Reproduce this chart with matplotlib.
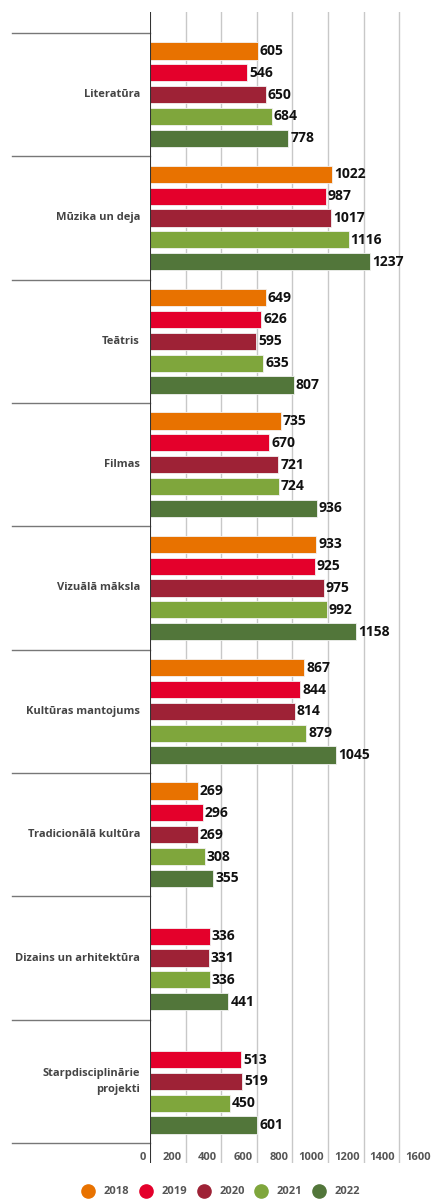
import numpy as np
import matplotlib
matplotlib.use("Agg")
import matplotlib.pyplot as plt
import matplotlib.transforms as mtransforms
from matplotlib.lines import Line2D

plt.rcParams['font.family'] = ['Open Sans', 'DejaVu Sans']

# Dati
categories = ['Literatūra', 'Mūzika un deja', 'Teātris', 'Filmas', 'Vizuālā māksla',
              'Kultūras mantojums', 'Tradicionālā kultūra', 'Dizains un arhitektūra',
              'Starpdisciplinārie\nprojekti']
years = ['2018', '2019', '2020', '2021', '2022']
v2018 = [605, 1022, 649, 735, 933, 867, 269, np.nan, np.nan]
v2019 = [546, 987, 626, 670, 925, 844, 296, 336, 513]
v2020 = [650, 1017, 595, 721, 975, 814, 269, 331, 519]
v2021 = [684, 1116, 635, 724, 992, 879, 308, 336, 450]
v2022 = [778, 1237, 807, 936, 1158, 1045, 355, 441, 601]
series = [v2018, v2019, v2020, v2021, v2022]
colors = ['#E87200', '#E4002B', '#9E2236', '#7FA63C', '#52763A']
xticks = [0, 200, 400, 600, 800, 1000, 1200, 1400, 1600]

W, H = 433, 1200
fig = plt.figure(figsize=(W / 100, H / 100), dpi=100)
left, right, top, bottom = 150, 433, 12, 1163
ax = fig.add_axes([left / W, 1 - bottom / H, (right - left) / W, (bottom - top) / H])

y = np.arange(len(categories))
step = 0.177
bh = 0.14
for k, (vals, c) in enumerate(zip(series, colors)):
    pos = y + (k - 2) * step
    ax.barh(pos, vals, height=bh, color=c, edgecolor='#f2f2f2', linewidth=0.6, zorder=3)
    for p, v in zip(pos, vals):
        if not np.isnan(v):
            ax.annotate(f'{int(v)}', (v, p), xytext=(1.5, 0), textcoords='offset points',
                        ha='left', va='center', fontsize=10, fontweight='bold',
                        color='#111111', zorder=4)

ax.set_xlim(0, 1590)
ax.set_ylim(8.5 + 0.162, -0.5 - 0.17)

# vertikālās režģa līnijas
for t in xticks[1:]:
    ax.axvline(t, color='#c8c8c8', linewidth=1, zorder=1)
ax.axvline(0, color='#333333', linewidth=1.5, zorder=5)

for s in ax.spines.values():
    s.set_visible(False)
ax.set_xticks([])
ax.set_yticks([])

# ass uzraksti
off = mtransforms.offset_copy(ax.transData, fig=fig, x=-4, y=0, units='dots')
ylab = 8.5 + 14 / 123.3
for t in xticks:
    ax.text(t, ylab, str(t), transform=off, ha='right', va='center',
            fontsize=8, fontweight='bold', color='#555555', clip_on=False)

# kategoriju nosaukumi un atdalītāji
blend = mtransforms.blended_transform_factory(ax.transAxes, ax.transData)
x0 = (12 - left) / (right - left)
for i in range(len(categories) + 1):
    ax.plot([x0, 0], [i - 0.5, i - 0.5], transform=blend, color='#777777',
            linewidth=1, clip_on=False)
offl = mtransforms.offset_copy(ax.transData, fig=fig, x=-10, y=0, units='dots')
for i, cat in enumerate(categories):
    ax.text(0, i, cat, transform=offl, ha='right', va='center', fontsize=8,
            fontweight='bold', color='#444444', linespacing=1.6)

handles = [Line2D([], [], marker='o', linestyle='none', markersize=9.5,
                  markerfacecolor=c, markeredgecolor=c) for c in colors]
fig.legend(handles, years, loc='center', bbox_to_anchor=(0.51, 1 - 1192 / H), ncol=5,
           frameon=False, handlelength=1.2, handletextpad=0.8, columnspacing=0.9,
           borderaxespad=0, prop={'size': 8, 'weight': 'bold'}, labelcolor='#555555')

fig.savefig('out.png', dpi=100)
